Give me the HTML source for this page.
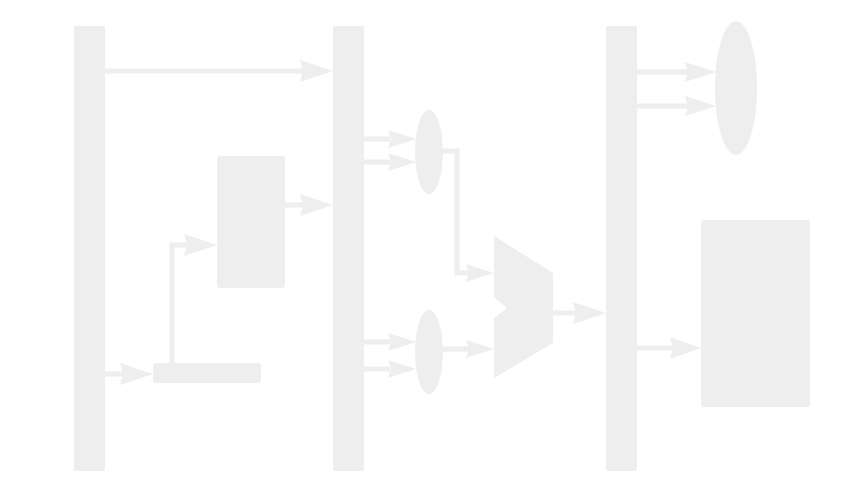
<!DOCTYPE html>
<html><head><meta charset="utf-8"><style>
html,body{margin:0;padding:0;background:#fff;}
svg{display:block;}
</style></head><body>
<svg width="864" height="493" viewBox="0 0 864 493" xmlns="http://www.w3.org/2000/svg">
<g fill="#eeeeee" stroke="none">
  <!-- bars -->
  <rect x="74" y="26" width="31" height="445" rx="2"/>
  <rect x="333" y="26" width="31" height="445" rx="2"/>
  <rect x="606" y="26" width="31" height="445" rx="2"/>
  <!-- boxes -->
  <rect x="217" y="156" width="68" height="132" rx="3"/>
  <rect x="153" y="363" width="108" height="20" rx="3"/>
  <rect x="701" y="220" width="109" height="187" rx="3"/>
  <!-- ellipses -->
  <ellipse cx="429" cy="152" rx="14" ry="42"/>
  <ellipse cx="429" cy="352" rx="14" ry="42"/>
  <ellipse cx="736" cy="88" rx="21" ry="67"/>
  <!-- mux -->
  <path d="M494,236 L553,273 L553,343 L494,378 L494,318 L507,308 L494,297 Z"/>
</g>
<g stroke="#eeeeee" stroke-width="5" fill="none">
  <line x1="105" y1="71" x2="305" y2="71"/>
  <line x1="285" y1="205" x2="305" y2="205"/>
  <line x1="105" y1="374" x2="125" y2="374"/>
  <polyline points="172,363 172,245 190,245"/>
  <line x1="364" y1="139" x2="390" y2="139"/>
  <line x1="364" y1="162" x2="390" y2="162"/>
  <line x1="364" y1="342" x2="390" y2="342"/>
  <line x1="364" y1="369" x2="390" y2="369"/>
  <polyline points="443,151 457,151 457,273 470,273"/>
  <line x1="443" y1="349" x2="470" y2="349"/>
  <line x1="553" y1="313" x2="580" y2="313"/>
  <line x1="637" y1="72" x2="690" y2="72"/>
  <line x1="637" y1="106" x2="690" y2="106"/>
  <line x1="637" y1="348" x2="675" y2="348"/>
</g>
<g fill="#eeeeee">
  <path d="M333,71 l-33,-11 l3,11 l-3,11 Z"/>
  <path d="M333,205 l-33,-11 l3,11 l-3,11 Z"/>
  <path d="M153,374 l-33,-11 l3,11 l-3,11 Z"/>
  <path d="M217,245 l-33,-11 l3,11 l-3,11 Z"/>
  <path d="M416,139 l-28,-9 l3,9 l-3,9 Z"/>
  <path d="M416,162 l-28,-9 l3,9 l-3,9 Z"/>
  <path d="M416,342 l-28,-9 l3,9 l-3,9 Z"/>
  <path d="M416,369 l-28,-9 l3,9 l-3,9 Z"/>
  <path d="M494,273 l-28,-9 l3,9 l-3,9 Z"/>
  <path d="M494,349 l-28,-9 l3,9 l-3,9 Z"/>
  <path d="M606,313 l-33,-11 l3,11 l-3,11 Z"/>
  <path d="M716,72 l-31,-10 l3,10 l-3,10 Z"/>
  <path d="M716,106 l-31,-10 l3,10 l-3,10 Z"/>
  <path d="M701,348 l-31,-11 l3,11 l-3,11 Z"/>
</g>
</svg>
</body></html>
